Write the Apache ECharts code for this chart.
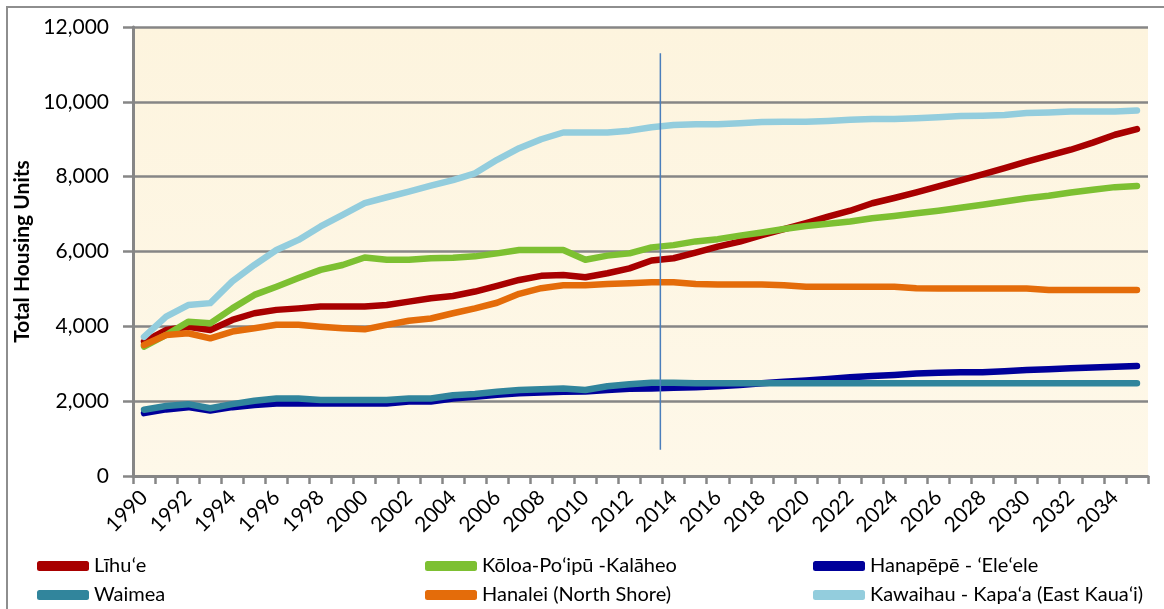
<!DOCTYPE html>
<html>
<head>
<meta charset="utf-8">
<title>Total Housing Units, Kauaʻi Districts, 1990–2035</title>
<script src="https://cdn.jsdelivr.net/npm/echarts@6/dist/echarts.min.js"></script>
<style>
  html, body { margin: 0; padding: 0; background: #ffffff; }
  #chart { width: 1164px; height: 609px; }
</style>
</head>
<body>
<div id="chart"></div>
<script>
// Years on the category axis
const years = [];
for (let y = 1990; y <= 2035; y++) years.push(String(y));

// Housing units by district (historic + projected)
const lihue = [3590, 3900, 3990, 3900, 4170, 4350, 4440, 4480, 4530, 4530,
  4530, 4570, 4660, 4750, 4810, 4930, 5080, 5240, 5350, 5370,
  5310, 5420, 5550, 5760, 5820, 5970, 6130, 6265, 6440, 6600,
  6760, 6930, 7090, 7290, 7430, 7580, 7740, 7900, 8060, 8230,
  8400, 8560, 8720, 8910, 9120, 9270];

const koloa = [3460, 3770, 4120, 4080, 4480, 4840, 5060, 5290, 5510, 5640,
  5840, 5780, 5780, 5820, 5830, 5870, 5950, 6040, 6040, 6040,
  5780, 5890, 5950, 6110, 6170, 6270, 6330, 6425, 6510, 6600,
  6680, 6740, 6800, 6890, 6950, 7020, 7090, 7170, 7250, 7335,
  7425, 7490, 7575, 7650, 7720, 7750];

const hanapepe = [1680, 1780, 1840, 1750, 1840, 1900, 1940, 1940, 1940, 1940,
  1940, 1940, 1990, 1990, 2070, 2120, 2170, 2210, 2230, 2250,
  2260, 2300, 2330, 2340, 2360, 2370, 2400, 2430, 2480, 2520,
  2550, 2590, 2640, 2670, 2700, 2740, 2760, 2770, 2770, 2800,
  2830, 2850, 2880, 2900, 2920, 2940];

const waimea = [1770, 1870, 1920, 1810, 1920, 2010, 2070, 2070, 2030, 2030,
  2030, 2030, 2070, 2070, 2160, 2190, 2250, 2300, 2320, 2340,
  2300, 2400, 2450, 2490, 2490, 2480, 2480, 2480, 2480, 2480,
  2480, 2480, 2480, 2480, 2480, 2480, 2480, 2480, 2480, 2480,
  2480, 2480, 2480, 2480, 2480, 2480];

const hanalei = [3500, 3770, 3815, 3680, 3860, 3950, 4040, 4040, 3990, 3950,
  3920, 4040, 4150, 4210, 4350, 4480, 4630, 4870, 5020, 5100,
  5100, 5130, 5150, 5180, 5180, 5130, 5120, 5120, 5120, 5100,
  5060, 5060, 5060, 5060, 5060, 5020, 5010, 5010, 5010, 5010,
  5010, 4970, 4970, 4970, 4970, 4970];

const kawaihau = [3720, 4260, 4570, 4620, 5200, 5640, 6040, 6310, 6670, 6980,
  7290, 7450, 7600, 7760, 7910, 8090, 8450, 8760, 9000, 9180,
  9180, 9180, 9230, 9320, 9380, 9400, 9400, 9430, 9460, 9470,
  9470, 9490, 9520, 9540, 9540, 9560, 9590, 9620, 9630, 9650,
  9700, 9715, 9740, 9740, 9740, 9770];

// Y axis ticks
const yTicks = [0, 2000, 4000, 6000, 8000, 10000, 12000];

// Divider between estimates and projections
const dividerYear = 2013.4;
const dividerSpan = [700, 11300];

const seriesDefs = [
  { name: 'Līhuʻe', data: lihue, color: '#A80000' },
  { name: 'Kōloa-Poʻipū -Kalāheo', data: koloa, color: '#7DC032' },
  { name: 'Hanapēpē - ʻEleʻele', data: hanapepe, color: '#00009A' },
  { name: 'Waimea', data: waimea, color: '#31859C' },
  { name: 'Hanalei (North Shore)', data: hanalei, color: '#E46C0A' },
  { name: 'Kawaihau - Kapaʻa (East Kauaʻi)', data: kawaihau, color: '#93CDDD' }
];

const FONT = 'Lato, "Open Sans", sans-serif';
const AXIS_GRAY = '#868686';

const legendText = { fontFamily: FONT, fontSize: 20, color: '#000', lineHeight: 22 };
function legendColumn(left, names) {
  return {
    orient: 'vertical',
    left: left,
    top: 555,
    padding: 0,
    itemGap: 7,
    itemWidth: 52,
    itemHeight: 10,
    itemTextGap: 2,
    icon: 'roundRect',
    data: names,
    textStyle: legendText
  };
}

const chart = echarts.init(document.getElementById('chart'), null, { renderer: 'canvas' });

const option = {
  backgroundColor: '#ffffff',
  animation: false,
  graphic: [{
    type: 'rect',
    shape: { x: 7, y: 7, width: 1175, height: 640 },
    style: { fill: 'none', stroke: '#8E8E8E', lineWidth: 2 },
    silent: true,
    z: -1
  }],
  grid: {
    left: 133, right: 16, top: 27, bottom: 133,
    show: true,
    borderWidth: 0,
    backgroundColor: {
      type: 'linear', x: 0, y: 0, x2: 0, y2: 1,
      colorStops: [
        { offset: 0, color: '#FDF4DE' },
        { offset: 1, color: '#FEF8E9' }
      ]
    }
  },
  legend: [
    legendColumn(37, [seriesDefs[0].name, seriesDefs[3].name]),
    legendColumn(425, [seriesDefs[1].name, seriesDefs[4].name]),
    legendColumn(813, [seriesDefs[2].name, seriesDefs[5].name])
  ],
  xAxis: [{
    type: 'category',
    data: years,
    boundaryGap: true,
    axisLine: { show: true, lineStyle: { color: AXIS_GRAY, width: 3 } },
    axisTick: { show: true, interval: 0, length: 8, lineStyle: { color: AXIS_GRAY, width: 2.5 } },
    axisLabel: {
      interval: 1,
      rotate: 45,
      margin: 18,
      fontFamily: FONT,
      fontSize: 21,
      color: '#000'
    },
    splitLine: { show: false }
  }, {
    type: 'value',
    min: 1989.5,
    max: 2035.5,
    show: false
  }],
  yAxis: {
    type: 'value',
    min: yTicks[0],
    max: yTicks[yTicks.length - 1],
    interval: yTicks[1] - yTicks[0],
    name: 'Total Housing Units',
    nameLocation: 'middle',
    nameRotate: 90,
    nameGap: 94,
    nameTextStyle: { fontFamily: FONT, fontSize: 21, fontWeight: 'bold', color: '#000' },
    axisLine: { show: true, lineStyle: { color: AXIS_GRAY, width: 3 } },
    axisTick: { show: true, length: 10, lineStyle: { color: AXIS_GRAY, width: 2.5 } },
    axisLabel: {
      margin: 24,
      fontFamily: FONT,
      fontSize: 21,
      color: '#000',
      formatter: v => v.toLocaleString('en-US')
    },
    splitLine: { show: true, lineStyle: { color: AXIS_GRAY, width: 2.5 } }
  },
  series: seriesDefs.map(s => ({
    name: s.name,
    type: 'line',
    data: s.data,
    symbol: 'none',
    smooth: false,
    color: s.color,
    lineStyle: { color: s.color, width: 6.5, cap: 'round', join: 'round' },
    itemStyle: { color: s.color },
    emphasis: { disabled: true }
  })).concat([{
    name: 'divider',
    type: 'line',
    xAxisIndex: 1,
    data: dividerSpan.map(v => [dividerYear, v]),
    symbol: 'none',
    lineStyle: { color: '#4A7EBB', width: 1.5 },
    silent: true,
    z: 5
  }])
};

chart.setOption(option);
</script>
</body>
</html>
